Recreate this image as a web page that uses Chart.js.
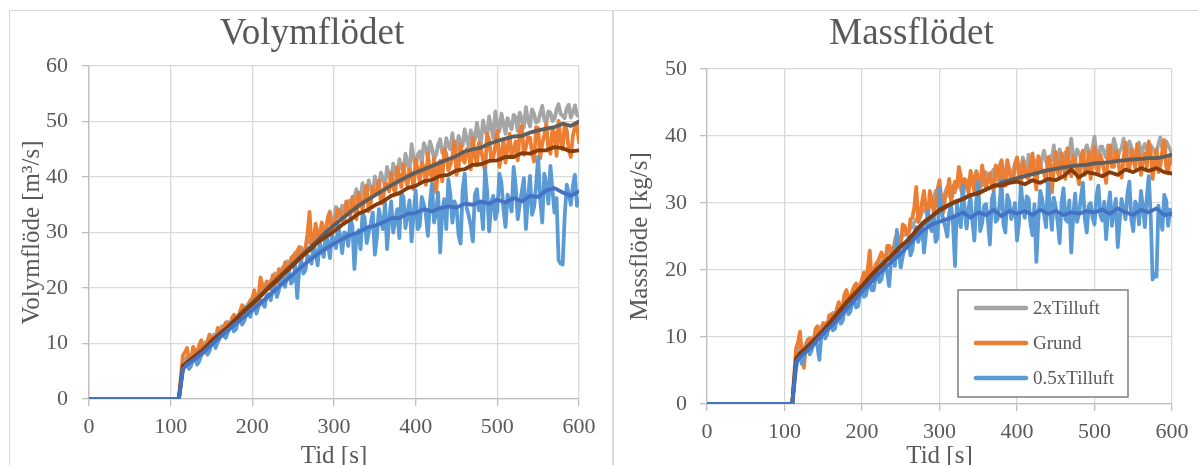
<!DOCTYPE html>
<html>
<head>
<meta charset="utf-8">
<script src="https://cdn.jsdelivr.net/npm/chart.js@4.4.1/dist/chart.umd.min.js"></script>
<style>
  html, body { margin: 0; padding: 0; background: #fff; overflow: hidden; }
  body { width: 1198px; height: 465px; position: relative; }
  .frame { position: absolute; border: 1.5px solid #d9d9d9; box-sizing: border-box; }
  #frameLeft { left: 9px; top: 10px; width: 605px; height: 480px; }
  #frameRight { left: 612px; top: 10px; width: 600px; height: 480px; border-left-width: 2.5px; }
  canvas { position: absolute; }
  #volChart { left: 11px; top: 11px; }
  #massChart { left: 615px; top: 11px; }
</style>
</head>
<body>
<div class="frame" id="frameLeft"></div>
<div class="frame" id="frameRight"></div>
<canvas id="volChart" width="600" height="464"></canvas>
<canvas id="massChart" width="583" height="464"></canvas>
<script>
// logged samples come in two interleaved sets (tRaw and tMid), averages every 10 s
const tRaw = [0, 110,
  115, 120, 125, 130, 135, 140, 145, 150, 155, 160,
  165, 170, 175, 180, 185, 190, 195, 200, 205, 210,
  215, 220, 225, 230, 235, 240, 245, 250, 255, 260,
  265, 270, 275, 280, 285, 290, 295, 300, 305, 310,
  315, 320, 325, 330, 335, 340, 345, 350, 355, 360,
  365, 370, 375, 380, 385, 390, 395, 400, 405, 410,
  415, 420, 425, 430, 435, 440, 445, 450, 455, 460,
  465, 470, 475, 480, 485, 490, 495, 500, 505, 510,
  515, 520, 525, 530, 535, 540, 545, 550, 555, 560,
  565, 570, 575, 580, 585, 590, 595, 600];

const tMid = [
  117.5, 122.5, 127.5, 132.5, 137.5, 142.5, 147.5, 152.5, 157.5, 162.5,
  167.5, 172.5, 177.5, 182.5, 187.5, 192.5, 197.5, 202.5, 207.5, 212.5,
  217.5, 222.5, 227.5, 232.5, 237.5, 242.5, 247.5, 252.5, 257.5, 262.5,
  267.5, 272.5, 277.5, 282.5, 287.5, 292.5, 297.5, 302.5, 307.5, 312.5,
  317.5, 322.5, 327.5, 332.5, 337.5, 342.5, 347.5, 352.5, 357.5, 362.5,
  367.5, 372.5, 377.5, 382.5, 387.5, 392.5, 397.5, 402.5, 407.5, 412.5,
  417.5, 422.5, 427.5, 432.5, 437.5, 442.5, 447.5, 452.5, 457.5, 462.5,
  467.5, 472.5, 477.5, 482.5, 487.5, 492.5, 497.5, 502.5, 507.5, 512.5,
  517.5, 522.5, 527.5, 532.5, 537.5, 542.5, 547.5, 552.5, 557.5, 562.5,
  567.5, 572.5, 577.5, 582.5, 587.5, 592.5, 597.5];

const tAvg = [0, 110, 115,
  120, 130, 140, 150, 160, 170, 180, 190, 200, 210,
  220, 230, 240, 250, 260, 270, 280, 290, 300, 310,
  320, 330, 340, 350, 360, 370, 380, 390, 400, 410,
  420, 430, 440, 450, 460, 470, 480, 490, 500, 510,
  520, 530, 540, 550, 560, 570, 580, 590, 600];

const seriesNames = ['2xTilluft', 'Grund', '0.5xTilluft'];
const rawColors = ['#a5a5a5', '#ed7d31', '#5b9bd5'];
const avgColors = ['#5e5e5e', '#843c0c', '#4472c4'];

// Volymflöde [m3/s]
const volRaw2x = [0, 0,
  6.4, 7.6, 7.2, 8.1, 8.6, 9.4, 9.9, 10.8, 11.5, 12.3,
  12.6, 13.9, 13.4, 14.8, 15.6, 16.1, 17.2, 17.9, 18.3, 19.2,
  20.1, 20.6, 21.8, 22.4, 23.1, 23.9, 24.3, 25.6, 25.9, 27.3,
  27.0, 28.6, 29.4, 28.9, 31.2, 30.4, 33.8, 32.1, 33.0, 34.9,
  33.6, 35.8, 36.4, 35.2, 38.9, 36.9, 37.8, 40.1, 38.2, 39.6,
  41.8, 39.4, 40.6, 43.2, 41.0, 42.4, 45.9, 42.0, 44.6, 46.1,
  43.5, 45.2, 44.0, 46.8, 43.9, 45.6, 47.9, 44.8, 46.3, 48.6,
  45.4, 47.2, 49.8, 46.1, 48.3, 50.9, 47.0, 49.4, 51.4, 47.8,
  49.6, 51.2, 48.3, 50.4, 52.6, 49.1, 51.3, 50.0, 52.8, 49.7,
  51.6, 50.5, 53.1, 51.0, 52.4, 50.7, 52.9, 50.9];
const volMid2x = [
  7.0, 6.9, 7.9, 8.9, 8.3, 10.2, 10.4, 11.6, 11.3, 13.1,
  13.5, 13.2, 14.9, 15.0, 16.8, 16.5, 17.6, 18.9, 19.0, 19.8,
  20.8, 21.3, 22.6, 22.0, 23.8, 24.8, 25.0, 26.4, 26.8, 26.6,
  28.4, 27.9, 30.6, 30.2, 29.8, 32.8, 31.4, 34.6, 32.6, 33.8,
  35.6, 34.4, 37.8, 36.4, 37.2, 39.4, 37.0, 38.6, 40.8, 38.4,
  40.2, 42.4, 39.8, 41.6, 44.2, 40.9, 43.4, 44.0, 42.4, 45.2,
  46.4, 43.2, 45.8, 44.4, 47.0, 45.0, 44.6, 47.4, 45.6, 46.8,
  48.4, 46.6, 47.4, 50.2, 47.6, 48.8, 51.8, 48.2, 49.6, 50.6,
  48.6, 50.8, 51.6, 48.9, 50.2, 52.2, 49.8, 51.4, 50.4, 51.8,
  50.1, 52.2, 51.4, 50.6, 53.0, 51.6, 51.2];
const volRawGrund = [0, 0,
  7.9, 9.2, 6.8, 8.6, 9.8, 8.2, 10.4, 11.0, 10.1, 12.4,
  12.9, 12.2, 14.6, 13.5, 15.7, 16.4, 15.6, 18.2, 17.4, 21.9,
  19.6, 20.8, 22.3, 20.9, 23.1, 24.6, 23.2, 25.8, 26.6, 25.1,
  27.2, 33.7, 28.1, 29.6, 31.8, 30.0, 33.6, 31.1, 34.2, 32.4,
  35.6, 33.0, 34.8, 37.2, 34.1, 38.5, 35.3, 36.8, 39.4, 36.0,
  38.6, 40.8, 37.0, 39.9, 42.3, 38.4, 40.6, 43.2, 39.1, 41.8,
  44.2, 40.0, 37.2, 42.9, 45.0, 41.2, 43.6, 40.4, 45.9, 42.6,
  44.4, 47.0, 42.1, 45.2, 40.9, 46.6, 43.5, 48.4, 44.0, 42.6,
  47.8, 44.9, 43.0, 49.2, 45.4, 47.1, 42.8, 48.8, 46.0, 49.6,
  44.2, 47.8, 50.1, 45.0, 48.4, 43.6, 49.0, 46.2];
const volMidGrund = [
  8.4, 7.2, 9.4, 7.9, 10.6, 9.3, 11.6, 10.2, 12.8, 11.6,
  13.8, 13.0, 15.2, 14.4, 16.9, 15.2, 17.8, 19.6, 18.2, 20.4,
  21.2, 19.8, 21.8, 23.4, 22.2, 23.6, 25.4, 24.4, 27.4, 26.2,
  29.6, 27.8, 31.6, 28.8, 30.6, 32.4, 29.8, 32.6, 33.8, 31.6,
  33.8, 36.4, 32.4, 35.6, 36.8, 33.8, 38.2, 37.6, 35.2, 38.8,
  37.4, 38.2, 41.8, 38.2, 39.6, 41.4, 37.8, 41.2, 42.6, 38.6,
  40.6, 43.4, 41.8, 39.2, 44.2, 42.2, 46.4, 41.6, 43.2, 45.0,
  41.4, 44.0, 46.2, 42.8, 47.8, 43.2, 45.6, 41.8, 46.8, 45.2,
  43.6, 46.4, 48.2, 44.0, 47.2, 44.4, 49.0, 43.4, 47.6, 45.0,
  48.8, 43.8, 46.6, 49.6, 44.8, 47.4, 49.4];
const volRawHalf = [0, 0,
  5.2, 6.6, 6.0, 7.4, 6.8, 8.6, 8.0, 9.9, 9.2, 11.0,
  11.4, 12.0, 13.3, 12.6, 14.5, 14.0, 15.7, 16.4, 15.4, 17.8,
  16.6, 18.9, 19.8, 18.4, 21.6, 20.2, 22.8, 21.4, 18.2, 24.9,
  23.2, 25.6, 27.8, 24.1, 26.9, 30.2, 25.4, 28.6, 31.4, 26.3,
  29.8, 32.6, 23.4, 30.4, 33.5, 28.1, 31.6, 26.0, 34.2, 30.6,
  27.0, 35.6, 32.2, 29.0, 36.4, 33.4, 28.4, 37.6, 31.2, 35.0,
  29.4, 38.8, 33.6, 26.4, 36.0, 39.6, 31.8, 34.6, 28.0, 40.6,
  33.0, 28.4, 37.8, 35.2, 41.6, 30.2, 36.6, 33.8, 39.0, 31.0,
  35.8, 41.8, 32.4, 37.4, 30.6, 40.2, 34.6, 43.6, 31.8, 38.8,
  42.0, 33.6, 25.0, 24.2, 38.6, 35.0, 40.4, 36.0];
const volMidHalf = [
  6.2, 5.4, 7.0, 6.2, 7.9, 9.0, 8.6, 10.6, 10.2, 11.8,
  11.0, 12.8, 12.2, 14.0, 13.4, 15.2, 14.8, 17.0, 16.6, 17.2,
  18.6, 17.8, 20.4, 19.6, 21.8, 22.4, 20.8, 24.0, 23.6, 22.6,
  25.8, 24.4, 26.4, 28.2, 25.6, 28.0, 29.6, 27.2, 29.4, 30.0,
  27.6, 31.2, 29.6, 27.0, 32.6, 30.0, 33.6, 29.2, 32.0, 35.4,
  32.4, 30.0, 34.2, 37.2, 30.8, 35.8, 33.4, 30.6, 36.4, 33.2,
  35.4, 31.8, 37.2, 34.0, 30.6, 36.8, 35.6, 29.6, 37.6, 34.4,
  31.2, 36.8, 34.0, 30.6, 37.4, 35.4, 32.4, 40.6, 34.2, 36.8,
  33.8, 38.4, 35.2, 39.8, 36.2, 33.2, 38.6, 36.0, 40.6, 35.2,
  37.6, 36.2, 24.4, 33.0, 37.0, 38.4, 34.8];
const volAvg2x = [0, 0, 5.8,
  6.6, 7.8, 9.0, 10.5, 11.8, 13.0, 14.5, 16.0, 17.3, 18.7,
  20.2, 21.6, 23.0, 24.4, 25.8, 27.2, 28.6, 30.0, 31.3, 32.5,
  33.7, 34.8, 35.8, 36.7, 37.6, 38.5, 39.3, 40.1, 40.8, 41.4,
  42.0, 42.6, 43.2, 43.8, 44.6, 45.0, 45.3, 46.0, 46.5, 46.9,
  47.3, 47.4, 48.0, 48.4, 48.7, 49.0, 49.6, 49.2, 50.0];
const volAvgGrund = [0, 0, 6.0,
  6.6, 7.7, 8.8, 10.4, 11.6, 12.9, 14.3, 15.8, 17.1, 18.5,
  20.0, 21.3, 22.8, 24.1, 25.6, 26.8, 28.2, 29.2, 30.2, 31.4,
  32.3, 33.4, 34.0, 34.9, 35.6, 36.6, 37.1, 38.0, 38.4, 39.2,
  39.5, 40.2, 40.4, 41.2, 41.4, 42.2, 42.3, 42.9, 43.0, 43.6,
  43.6, 44.3, 44.2, 44.8, 44.8, 45.4, 45.2, 44.6, 44.8];
const volAvgHalf = [0, 0, 5.4,
  6.2, 7.2, 8.4, 9.8, 11.1, 12.4, 13.6, 14.8, 16.0, 17.3,
  18.6, 19.9, 21.2, 22.5, 23.8, 25.0, 26.1, 27.1, 28.0, 28.8,
  29.6, 30.0, 30.9, 31.2, 31.8, 32.6, 32.6, 33.4, 33.5, 34.2,
  33.8, 34.4, 34.7, 34.5, 35.2, 35.0, 35.6, 35.2, 35.9, 35.4,
  36.2, 35.6, 36.6, 36.4, 37.6, 38.0, 37.2, 36.6, 37.4];

// Massflöde [kg/s]
const massRaw2x = [0, 0,
  7.4, 8.6, 8.0, 9.4, 9.0, 10.3, 10.8, 11.4, 12.2, 12.9,
  13.4, 14.0, 14.9, 15.3, 16.0, 16.8, 17.1, 18.2, 18.6, 19.3,
  19.8, 20.6, 21.4, 21.8, 22.6, 23.3, 23.8, 24.6, 25.2, 25.9,
  26.4, 27.6, 27.9, 28.8, 29.1, 30.0, 31.8, 29.9, 30.6, 32.4,
  30.8, 31.6, 33.6, 31.5, 32.4, 34.0, 32.2, 33.8, 32.6, 34.6,
  33.2, 35.0, 33.4, 36.4, 33.8, 35.2, 34.6, 36.6, 34.2, 35.8,
  37.2, 34.8, 36.0, 35.2, 37.8, 35.4, 36.4, 35.6, 38.0, 36.2,
  35.8, 39.6, 36.2, 37.4, 36.0, 38.6, 36.4, 39.9, 36.6, 38.4,
  36.8, 37.6, 39.6, 36.8, 38.2, 37.0, 39.2, 37.4, 38.0, 37.2,
  38.8, 37.4, 38.2, 37.6, 39.8, 37.0, 38.6, 37.4];
const massMid2x = [
  8.2, 7.9, 9.0, 9.8, 10.0, 10.4, 11.6, 12.0, 12.4, 13.6,
  13.8, 14.6, 15.0, 16.2, 16.4, 17.4, 17.8, 18.4, 19.2, 19.9,
  20.4, 21.2, 21.2, 22.4, 23.0, 23.8, 24.2, 25.2, 25.6, 26.2,
  27.2, 27.2, 28.6, 29.4, 29.8, 30.8, 30.4, 31.2, 31.6, 31.0,
  32.6, 32.8, 32.0, 33.2, 33.4, 32.8, 34.8, 33.0, 34.2, 33.6,
  34.6, 34.0, 35.6, 34.8, 35.6, 34.2, 36.0, 35.4, 36.8, 34.8,
  36.2, 36.4, 35.6, 36.8, 36.2, 37.0, 38.6, 36.4, 37.0, 37.6,
  37.4, 37.0, 38.0, 36.8, 37.6, 37.8, 38.2, 37.2, 38.4, 37.4,
  38.6, 37.4, 38.4, 37.8, 39.6, 37.6, 38.4, 37.8, 39.0, 38.2,
  37.8, 38.6, 37.6, 38.8, 38.2, 39.2, 38.0];
const massRawGrund = [0, 0,
  8.4, 10.8, 5.4, 9.6, 8.2, 11.2, 10.0, 12.1, 11.0, 13.4,
  12.6, 15.2, 14.6, 17.0, 15.8, 17.6, 16.8, 18.6, 17.8, 22.9,
  19.4, 21.2, 22.6, 21.0, 23.6, 22.4, 25.4, 24.0, 26.6, 25.2,
  27.8, 32.4, 28.0, 31.8, 27.6, 30.4, 29.8, 33.4, 28.6, 31.6,
  30.2, 33.2, 35.4, 30.8, 32.6, 34.8, 31.6, 33.0, 35.6, 32.2,
  34.4, 31.8, 35.2, 36.2, 32.6, 34.8, 33.2, 36.8, 32.4, 35.2,
  33.6, 37.4, 32.0, 35.6, 34.4, 36.8, 31.6, 37.6, 33.8, 35.8,
  38.2, 34.0, 36.4, 32.8, 37.8, 35.0, 33.6, 38.4, 34.6, 36.2,
  33.0, 38.6, 35.4, 37.2, 33.8, 39.0, 34.8, 36.6, 38.8, 34.2,
  37.4, 39.2, 33.6, 38.0, 35.6, 39.4, 34.4, 36.0];
const massMidGrund = [
  9.2, 7.4, 8.6, 9.8, 9.0, 11.6, 10.8, 11.4, 13.2, 12.2,
  14.2, 13.6, 16.4, 15.6, 16.8, 18.0, 17.6, 19.6, 20.2, 18.8,
  20.8, 21.8, 22.0, 23.6, 22.8, 24.4, 24.6, 26.8, 25.4, 27.6,
  29.4, 27.2, 30.2, 29.0, 31.8, 28.6, 32.0, 30.2, 31.2, 33.6,
  31.8, 32.4, 34.0, 33.6, 31.4, 33.8, 34.6, 32.4, 34.0, 33.4,
  32.8, 35.6, 33.4, 34.0, 36.4, 33.2, 35.8, 34.4, 36.2, 33.8,
  36.0, 34.2, 37.0, 34.8, 33.2, 36.4, 35.2, 34.6, 37.4, 33.6,
  35.6, 37.0, 34.4, 36.8, 34.2, 37.6, 36.0, 35.2, 37.2, 34.8,
  36.8, 35.4, 37.8, 34.6, 36.6, 35.6, 38.0, 35.2, 37.0, 36.4,
  35.4, 37.6, 36.2, 34.6, 37.8, 35.4, 37.2];
const massRawHalf = [0, 0,
  5.4, 7.6, 6.9, 8.8, 8.0, 9.6, 6.6, 11.2, 10.4, 12.3,
  11.2, 13.0, 12.4, 14.6, 13.8, 15.4, 14.6, 17.2, 16.2, 18.2,
  17.0, 19.4, 18.6, 20.8, 17.6, 22.0, 26.0, 20.4, 23.2, 24.8,
  23.0, 26.4, 25.2, 22.6, 28.8, 25.8, 24.2, 32.2, 27.4, 25.0,
  29.6, 20.6, 28.0, 32.6, 26.2, 30.8, 24.4, 33.2, 27.0, 29.8,
  23.8, 31.6, 27.6, 33.4, 25.6, 30.2, 28.6, 24.4, 32.8, 27.8,
  30.6, 25.2, 21.2, 31.8, 28.2, 33.6, 26.0, 29.4, 24.0, 32.2,
  27.2, 22.6, 31.4, 28.4, 33.0, 25.6, 30.0, 26.8, 32.6, 27.4,
  24.6, 31.6, 28.8, 23.4, 30.6, 27.6, 33.2, 25.8, 29.6, 31.8,
  26.4, 34.0, 18.6, 19.0, 27.8, 31.2, 26.6, 28.2];
const massMidHalf = [
  6.8, 6.0, 8.2, 7.4, 9.2, 8.6, 10.2, 9.8, 11.6, 11.0,
  12.6, 12.0, 14.0, 13.4, 15.2, 14.4, 16.4, 16.0, 17.6, 17.0,
  18.8, 18.2, 20.0, 19.6, 21.4, 20.6, 22.6, 22.0, 23.8, 22.2,
  25.4, 24.2, 27.0, 25.4, 26.6, 28.4, 24.8, 29.0, 26.4, 28.6,
  26.8, 30.0, 26.4, 28.8, 29.4, 27.2, 30.4, 25.8, 29.6, 27.4,
  30.6, 27.2, 29.8, 26.8, 31.2, 27.6, 30.0, 27.0, 29.4, 31.0,
  26.8, 29.8, 27.4, 30.6, 26.4, 29.4, 30.8, 27.2, 30.0, 27.6,
  30.4, 28.0, 27.2, 30.8, 27.6, 29.6, 27.8, 31.0, 28.2, 30.2,
  29.0, 26.6, 30.6, 27.4, 29.0, 31.4, 27.6, 30.2, 26.8, 29.4,
  30.8, 28.2, 19.4, 29.6, 26.0, 30.4, 29.0];
const massAvg2x = [0, 0, 6.6,
  7.4, 8.5, 9.5, 10.8, 12.2, 13.6, 15.0, 16.2, 17.5, 18.8,
  20.0, 21.2, 22.3, 23.4, 24.6, 25.8, 27.0, 28.0, 28.8, 29.5,
  30.1, 30.6, 31.1, 31.6, 32.0, 32.5, 33.0, 33.4, 33.7, 34.0,
  34.3, 34.6, 34.9, 35.1, 35.3, 35.5, 35.6, 35.7, 35.9, 36.0,
  36.1, 36.3, 36.4, 36.5, 36.6, 36.7, 36.7, 36.9, 37.2];
const massAvgGrund = [0, 0, 6.8,
  7.6, 8.6, 9.8, 11.0, 12.4, 13.8, 15.2, 16.4, 17.6, 19.0,
  20.2, 21.3, 22.4, 23.6, 24.4, 26.0, 27.2, 28.0, 29.0, 29.6,
  30.2, 30.6, 31.2, 31.4, 32.0, 32.6, 32.6, 33.0, 33.2, 32.8,
  33.4, 33.0, 33.6, 33.4, 34.0, 35.0, 33.8, 34.6, 34.4, 34.0,
  34.6, 34.2, 35.0, 34.6, 35.2, 34.8, 35.2, 34.6, 34.4];
const massAvgHalf = [0, 0, 6.2,
  7.0, 8.0, 9.2, 10.5, 11.6, 12.8, 14.2, 15.4, 16.8, 18.0,
  19.2, 20.4, 21.4, 22.5, 23.6, 25.0, 26.0, 26.8, 27.2, 27.6,
  28.0, 28.6, 27.8, 28.6, 28.2, 29.0, 28.0, 28.8, 28.4, 28.8,
  28.2, 29.0, 28.4, 28.8, 28.2, 28.6, 28.4, 28.8, 28.6, 29.0,
  28.4, 29.2, 28.6, 28.2, 29.0, 28.6, 29.2, 28.2, 28.4];

const serif = '"Liberation Serif", "Times New Roman", serif';
const textGray = '#595959';

function points(xs, ys) {
  return ys.map((y, i) => ({ x: xs[i], y: y }));
}

// merge both sample sets into one time-ordered trace
function trace(main, mid) {
  return points(tRaw, main).concat(points(tMid, mid)).sort((a, b) => a.x - b.x);
}

// boxed legend sitting inside the plot area
const boxLegend = {
  id: 'boxLegend',
  afterDraw(chart, args, opts) {
    if (!opts.show) return;
    const ctx = chart.ctx;
    ctx.save();
    ctx.fillStyle = '#ffffff';
    ctx.fillRect(opts.x, opts.y, opts.w, opts.h);
    ctx.strokeStyle = '#7f7f7f';
    ctx.lineWidth = 1.5;
    ctx.strokeRect(opts.x, opts.y, opts.w, opts.h);
    ctx.font = '19px ' + serif;
    ctx.textBaseline = 'middle';
    seriesNames.forEach((name, i) => {
      const cy = opts.y + 18 + i * 35;
      ctx.strokeStyle = rawColors[i];
      ctx.lineWidth = 4.5;
      ctx.lineCap = 'round';
      ctx.beginPath();
      ctx.moveTo(opts.x + 18, cy);
      ctx.lineTo(opts.x + 68, cy);
      ctx.stroke();
      ctx.fillStyle = textGray;
      ctx.fillText(name, opts.x + 75, cy + 1);
    });
    ctx.restore();
  }
};

// nudge the chart title sideways so it sits over the plot
const titleShift = {
  id: 'titleShift',
  afterLayout(chart, args, opts) {
    const t = chart.titleBlock;
    if (t && opts.dx) {
      t.left += opts.dx;
      t.right += opts.dx;
    }
  }
};

function makeChart(id, opt) {
  const datasets = [];
  // raw signals underneath, moving averages on top
  for (let i = 0; i < 3; i++) {
    datasets.push({
      label: seriesNames[i],
      data: trace(opt.raw[i], opt.mid[i]),
      borderColor: rawColors[i],
      borderWidth: 3.8,
      order: 6 - i
    });
  }
  for (let i = 0; i < 3; i++) {
    datasets.push({
      label: seriesNames[i] + ' medel',
      data: points(tAvg, opt.avg[i]),
      borderColor: avgColors[i],
      borderWidth: 3.8,
      order: 3 - i
    });
  }

  return new Chart(document.getElementById(id).getContext('2d'), {
    type: 'line',
    data: { datasets },
    options: {
      responsive: false,
      animation: false,
      layout: { padding: { left: 0, right: opt.padRight, top: 0, bottom: 0 } },
      elements: {
        point: { radius: 0 },
        line: { tension: 0, borderJoinStyle: 'round', borderCapStyle: 'round' }
      },
      plugins: {
        legend: { display: false },
        tooltip: { enabled: false },
        title: {
          display: true,
          text: opt.title,
          color: textGray,
          font: { family: serif, size: 37, weight: 'normal' },
          padding: { top: 0.8, bottom: opt.titleGap }
        },
        titleShift: { dx: opt.titleDx },
        boxLegend: opt.legend || { show: false }
      },
      scales: {
        x: {
          type: 'linear',
          min: 0,
          max: 600,
          ticks: {
            stepSize: 100,
            maxRotation: 0,
            padding: 8,
            color: textGray,
            font: { family: serif, size: 22 }
          },
          grid: { color: '#d9d9d9', lineWidth: 1.3, tickLength: 7, tickColor: '#bfbfbf' },
          border: { color: '#bfbfbf', width: 1.3 },
          title: {
            display: true,
            text: 'Tid [s]',
            color: textGray,
            font: { family: serif, size: 25 },
            padding: { top: 0, bottom: 4 }
          },
          afterFit: (s) => { s.height = opt.xHeight; }
        },
        y: {
          min: 0,
          max: opt.yMax,
          ticks: {
            stepSize: 10,
            padding: opt.yPad,
            color: textGray,
            font: { family: serif, size: 22 }
          },
          grid: { color: '#d9d9d9', lineWidth: 1.3, tickLength: 7, tickColor: '#bfbfbf' },
          border: { color: '#bfbfbf', width: 1.3 },
          title: {
            display: true,
            text: opt.yTitle,
            color: textGray,
            font: { family: serif, size: 25 },
            padding: { top: opt.yTitlePad, bottom: 0 }
          },
          afterFit: (s) => { s.width = opt.yWidth; }
        }
      }
    },
    plugins: [boxLegend, titleShift]
  });
}

makeChart('volChart', {
  title: 'Volymflödet',
  yTitle: 'Volymflöde [m³/s]',
  yMax: 60,
  raw: [volRaw2x, volRawGrund, volRawHalf],
  mid: [volMid2x, volMidGrund, volMidHalf],
  avg: [volAvg2x, volAvgGrund, volAvgHalf],
  padRight: 32,
  titleGap: 9.8,
  titleDx: 17,
  xHeight: 76,
  yWidth: 78,
  yPad: 14,
  yTitlePad: 6
});

makeChart('massChart', {
  title: 'Massflödet',
  yTitle: 'Massflöde [kg/s]',
  yMax: 50,
  raw: [massRaw2x, massRawGrund, massRawHalf],
  mid: [massMid2x, massMidGrund, massMidHalf],
  avg: [massAvg2x, massAvgGrund, massAvgHalf],
  padRight: 26,
  titleGap: 12.8,
  titleDx: 18,
  xHeight: 71,
  yWidth: 92,
  yPad: 13,
  yTitlePad: 10,
  legend: { show: true, x: 343, y: 279, w: 170, h: 107 }
});
</script>
</body>
</html>
